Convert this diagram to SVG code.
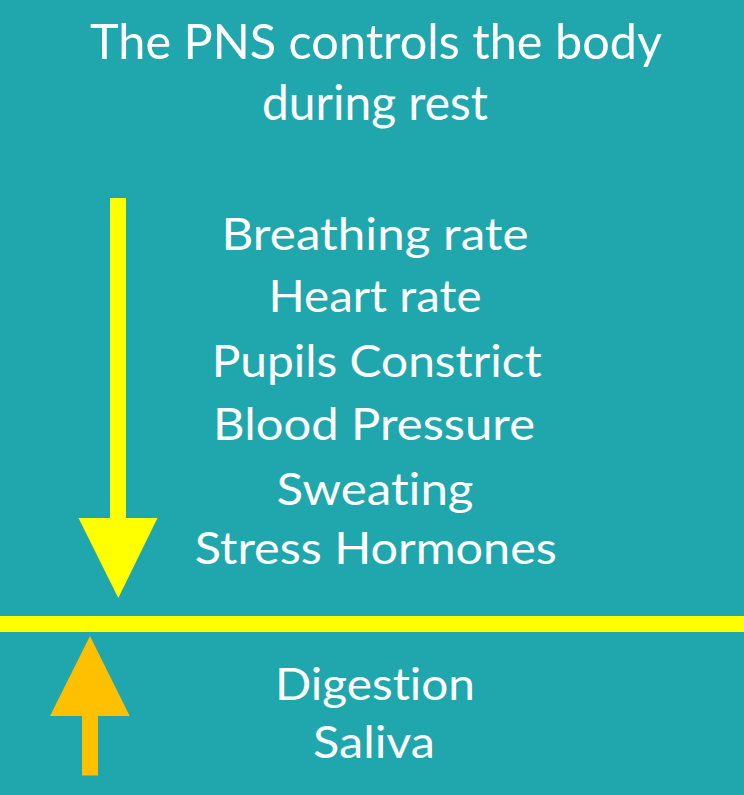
<svg xmlns="http://www.w3.org/2000/svg" width="744" height="795" viewBox="0 0 744 795">
<style>
  .t { font-family: Lato, "Open Sans", "Liberation Sans", sans-serif; fill: #FFFFFF; text-anchor: middle; font-variant-ligatures: none; font-feature-settings: "liga" 0, "clig" 0; }
  .title { font-size: 48px; }
  .item { font-size: 45px; }
</style>
<rect x="0" y="0" width="744" height="795" fill="#1FA7AD"/>
<g id="title">
  <text class="t title" x="376" y="59" textLength="572" lengthAdjust="spacingAndGlyphs">The PNS controls the body</text>
  <text class="t title" x="375" y="120" textLength="226" lengthAdjust="spacingAndGlyphs">during rest</text>
</g>
<g id="decrease-list">
  <text class="t item" x="375" y="250" textLength="307" lengthAdjust="spacingAndGlyphs">Breathing rate</text>
  <text class="t item" x="375" y="312" textLength="213" lengthAdjust="spacingAndGlyphs">Heart rate</text>
  <text class="t item" x="376.7" y="377" textLength="330" lengthAdjust="spacingAndGlyphs">Pupils Constrict</text>
  <text class="t item" x="374" y="440" textLength="322" lengthAdjust="spacingAndGlyphs">Blood Pressure</text>
  <text class="t item" x="375" y="505" textLength="197" lengthAdjust="spacingAndGlyphs">Sweating</text>
  <text class="t item" x="375.8" y="564" textLength="362" lengthAdjust="spacingAndGlyphs">Stress Hormones</text>
</g>
<g id="increase-list">
  <text class="t item" x="375" y="700" textLength="200" lengthAdjust="spacingAndGlyphs">Digestion</text>
  <text class="t item" x="374" y="758" textLength="122" lengthAdjust="spacingAndGlyphs">Saliva</text>
</g>
<g id="connectors">
  <rect id="divider" x="0" y="616" width="744" height="16" fill="#FFFF00"/>
  <polygon id="down-arrow" fill="#FFFF00" points="110,198 126,198 126,518 157.5,518 118.3,598 78.5,518 110,518"/>
  <polygon id="up-arrow" fill="#FFC000" points="90,636 129.7,716 98,716 98,775.5 82,775.5 82,716 50,716"/>
</g>
</svg>
